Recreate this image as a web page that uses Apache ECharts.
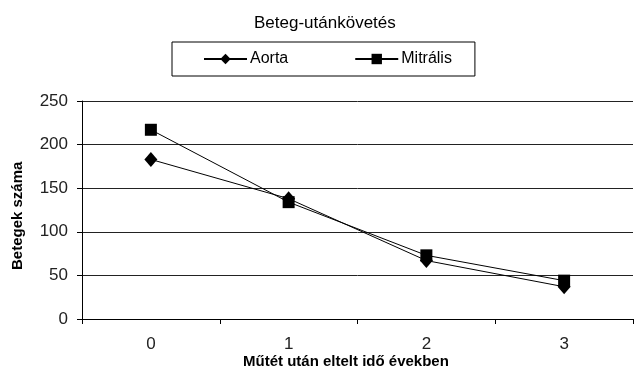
<!DOCTYPE html>
<html><head><meta charset="utf-8">
<script src="https://cdn.jsdelivr.net/npm/echarts@6/dist/echarts.min.js"></script>
<style>html,body{margin:0;padding:0;background:#fff}#c{width:634px;height:369px}</style>
</head><body><div id="c"></div>
<script>
const title = 'Beteg-utánkövetés';
const categories = ['0', '1', '2', '3'];
const aorta = [183, 138, 67, 37];
const mitralis = [217, 134, 73, 44];
const yTicks = [0, 250, 50]; // min, max, interval
const xName = 'Műtét után eltelt idő években';
const yName = 'Betegek száma';

const chart = echarts.init(document.getElementById('c'));
const sans = '"Liberation Sans", Arial, sans-serif';
chart.setOption({
  animation: false,
  backgroundColor: '#fff',
  title: {text: title, left: 249, top: 10,
    textStyle: {fontFamily: sans, fontSize: 17, fontWeight: 'normal', color: '#000'}},
  legend: {
    left: 172, top: 42,
    padding: [9, 23, 9, 31],
    borderColor: '#000', borderWidth: 1,
    itemWidth: 43, itemHeight: 13, itemGap: 66,
    textStyle: {fontFamily: sans, fontSize: 16, color: '#000', padding: [0, 0, 0, -2]},
    data: ['Aorta', 'Mitrális']
  },
  grid: {left: 82, right: 1, top: 101, bottom: 50},
  xAxis: {
    type: 'category', data: categories, boundaryGap: true,
    axisLine: {lineStyle: {color: '#000', width: 1}},
    axisTick: {show: true, length: 5, lineStyle: {color: '#000'}},
    axisLabel: {fontFamily: sans, fontSize: 17, color: '#222', margin: 17},
    splitLine: {show: false}
  },
  yAxis: {
    type: 'value', min: yTicks[0], max: yTicks[1], interval: yTicks[2],
    axisLine: {show: true, lineStyle: {color: '#000', width: 1}},
    axisTick: {show: true, length: 5, lineStyle: {color: '#000'}},
    axisLabel: {fontFamily: sans, fontSize: 17, color: '#222', margin: 14},
    splitLine: {show: true, lineStyle: {color: '#222', width: 1}}
  },
  graphic: [
    {type: 'text', left: 243, top: 354, style: {text: xName, font: 'bold 15px ' + sans, fill: '#000'}},
    {type: 'text', x: 10, y: 270, rotation: Math.PI / 2, style: {text: yName, font: 'bold 15px ' + sans, fill: '#000'}}
  ],
  series: [
    {name: 'Aorta', type: 'line', data: aorta, symbol: 'diamond', symbolSize: [13, 15],
      lineStyle: {color: '#000', width: 1}, itemStyle: {color: '#000'}},
    {name: 'Mitrális', type: 'line', data: mitralis, symbol: 'rect', symbolSize: 12,
      lineStyle: {color: '#000', width: 1}, itemStyle: {color: '#000'}}
  ]
});
</script></body></html>
